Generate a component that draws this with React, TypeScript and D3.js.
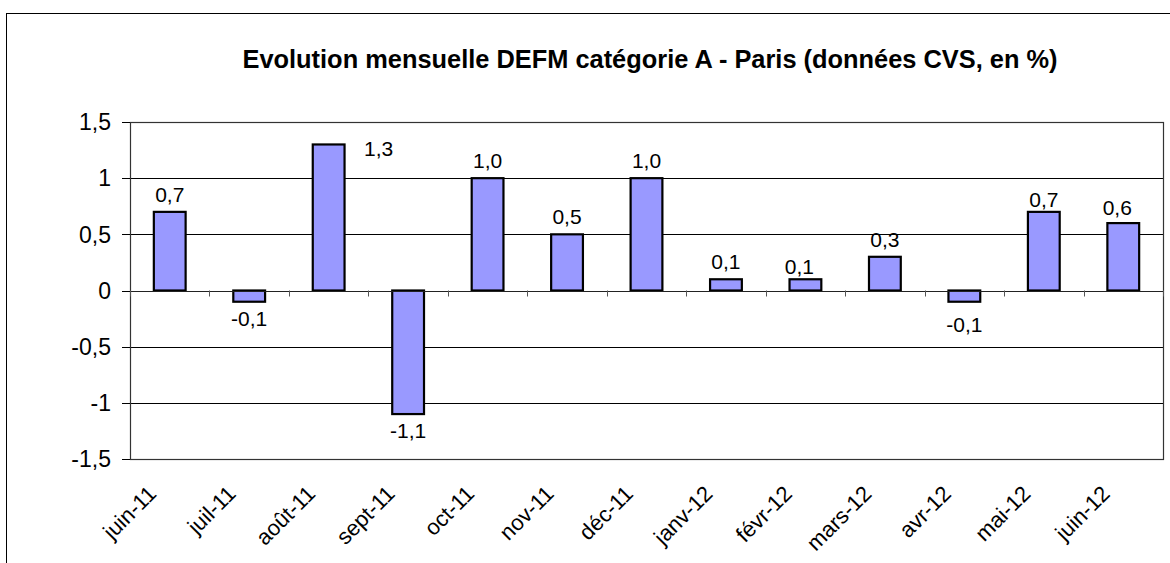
import React from "react";
import * as d3 from "d3";

const categories = [
  "juin-11", "juil-11", "août-11", "sept-11", "oct-11", "nov-11", "déc-11",
  "janv-12", "févr-12", "mars-12", "avr-12", "mai-12", "juin-12",
];
const values = [0.7, -0.1, 1.3, -1.1, 1.0, 0.5, 1.0, 0.1, 0.1, 0.3, -0.1, 0.7, 0.6];
const yTicks = [-1.5, -1, -0.5, 0, 0.5, 1, 1.5];
const title = "Evolution mensuelle DEFM catégorie A - Paris (données CVS, en %)";

// manual label nudges (layout only), keyed by category
const labelNudge: Record<string, [number, number]> = {
  "août-11": [50, 22],
  "févr-12": [-6, 5],
  "juin-12": [-6, 2],
  "mai-12": [0, 5],
  "avr-12": [0, 6],
};

const W = 1170;
const H = 563;
const M = { left: 130, right: 1163, top: 122, bottom: 459 };
const FONT = "'Liberation Sans', Arial, sans-serif";

const fmt = (v: number, dec: boolean) => {
  const s = dec ? v.toFixed(1) : String(v);
  return s.replace(".", ",");
};

export default function App() {
  const x = d3
    .scaleBand<string>()
    .domain(categories)
    .range([M.left, M.right])
    .paddingInner(0.6)
    .paddingOuter(0.3);
  const y = d3.scaleLinear().domain([-1.5, 1.5]).range([M.bottom, M.top]);
  const step = x.step();
  const bw = x.bandwidth();
  const y0 = y(0);

  return (
    <svg
      width={W}
      height={H}
      style={{ position: "absolute", left: 0, top: 0, background: "#fff" }}
      fontFamily={FONT}
    >
      <rect x={0} y={0} width={W} height={H} fill="#fff" />
      {/* outer chart frame */}
      <rect x={6.5} y={13.5} width={1300} height={700} fill="none" stroke="#000" strokeWidth={1} />

      {/* title */}
      <text x={650} y={68} textAnchor="middle" fontSize={25.4} fontWeight="bold" fill="#000">
        {title}
      </text>

      {/* gridlines */}
      {yTicks
        .filter((t) => t !== 0 && Math.abs(t) !== 1.5)
        .map((t) => (
          <line
            key={"g" + t}
            x1={M.left}
            x2={M.right}
            y1={Math.round(y(t)) + 0.5}
            y2={Math.round(y(t)) + 0.5}
            stroke="#000"
            strokeWidth={1}
          />
        ))}

      {/* plot border */}
      <rect
        x={M.left + 0.5}
        y={M.top + 0.5}
        width={M.right - M.left}
        height={M.bottom - M.top}
        fill="none"
        stroke="#333"
        strokeWidth={1.2}
      />

      {/* y axis ticks & labels */}
      {yTicks.map((t) => (
        <g key={"y" + t}>
          <line
            x1={M.left - 8}
            x2={M.left}
            y1={Math.round(y(t)) + 0.5}
            y2={Math.round(y(t)) + 0.5}
            stroke="#000"
          />
          <text
            x={111}
            y={y(t)}
            dy="0.36em"
            textAnchor="end"
            fontSize={23}
            fill="#000"
          >
            {fmt(t, false)}
          </text>
        </g>
      ))}

      {/* bars */}
      {categories.map((c, i) => {
        const v = values[i];
        const top = Math.min(y(v), y0);
        const h = Math.abs(y(v) - y0);
        return (
          <rect
            key={"b" + c}
            x={(x(c) as number)}
            y={top}
            width={bw}
            height={h}
            fill="#9999FF"
            stroke="#000"
            strokeWidth={2.2}
          />
        );
      })}

      {/* zero axis line and ticks */}
      <line x1={M.left} x2={M.right} y1={Math.round(y0) + 0.5} y2={Math.round(y0) + 0.5} stroke="#222" />
      {d3.range(categories.length + 1).map((i) => {
        const xx = Math.round(M.left + i * step) + 0.5;
        return <line key={"xt" + i} x1={xx} x2={xx} y1={y0} y2={y0 + 6} stroke="#555" />;
      })}

      {/* data labels */}
      {categories.map((c, i) => {
        const v = values[i];
        const cx = (x(c) as number) + bw / 2;
        const [dx, dy] = labelNudge[c] || [0, 0];
        const ly = v >= 0 ? y(v) - 10 : y(v) + 24;
        return (
          <text
            key={"l" + c}
            x={cx + dx}
            y={ly + dy}
            textAnchor="middle"
            fontSize={21}
            fill="#000"
          >
            {fmt(v, true)}
          </text>
        );
      })}

      {/* x axis labels */}
      {categories.map((c) => {
        const cx = (x(c) as number) + bw / 2 - 12;
        const ly = 495;
        return (
          <text
            key={"x" + c}
            x={cx}
            y={ly}
            textAnchor="end"
            fontSize={22}
            fill="#000"
            transform={`rotate(-45, ${cx}, ${ly})`}
          >
            {c}
          </text>
        );
      })}
    </svg>
  );
}
